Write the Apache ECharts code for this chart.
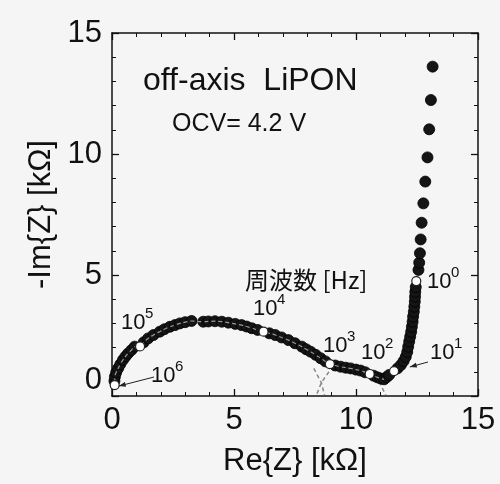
<!DOCTYPE html>
<html>
<head>
<meta charset="utf-8">
<script src="https://cdn.jsdelivr.net/npm/echarts@6/dist/echarts.min.js"></script>
<style>
html,body{margin:0;padding:0;background:#f5f5f5;}
#c{width:500px;height:484px;}
</style>
</head>
<body>
<div id="c"></div>
<script>
// Measured impedance points (Re, -Im) in kΩ, filled markers
const reFilled = [0.10,0.12,0.17,0.25,0.34,0.45,0.55,0.66,0.80,0.93,1.30,1.48,1.70,1.96,2.15,2.37,2.58,2.78,3.00,3.26,
  3.74,3.95,4.22,4.50,4.77,5.05,5.31,5.52,5.73,5.97,6.45,6.69,6.95,7.23,7.50,7.78,7.96,8.14,8.35,8.55,8.75,
  9.15,9.37,9.58,9.78,10.00,10.19,10.38,10.72,10.88,11.02,11.15,11.26,11.36,11.70,11.84,11.95,12.04,12.10,12.14,
  12.18,12.22,12.26,12.29,12.32,12.34,12.37,12.39,12.41,12.42,12.43,12.45,
  12.56,12.59,12.62,12.65,12.69,12.76,12.84,12.93,13.00,13.07,13.14];
const imFilled = [0.62,0.80,0.97,1.14,1.31,1.49,1.63,1.76,1.90,2.04,2.22,2.38,2.52,2.66,2.76,2.86,2.93,3.00,3.05,3.10,
  3.07,3.08,3.09,3.07,3.03,2.98,2.93,2.87,2.80,2.73,2.59,2.52,2.42,2.31,2.18,2.04,1.93,1.83,1.70,1.56,1.43,
  1.26,1.21,1.17,1.14,1.09,1.05,0.98,0.84,0.77,0.72,0.69,0.78,0.87,1.14,1.28,1.44,1.62,1.82,2.04,
  2.25,2.45,2.65,2.86,3.07,3.28,3.48,3.69,3.90,4.10,4.30,4.50,
  5.21,5.51,5.90,6.47,7.16,7.96,8.86,9.86,11.02,12.23,13.61];
// Open markers (frequency decades)
const reOpen = [0.11,1.15,6.21,8.93,10.56,11.56,12.47];
const imOpen = [0.45,2.05,2.66,1.32,0.91,1.03,4.75];
// Visible dashed fit-curve fragments
const fitA_re = [8.27,8.58,8.71], fitA_im = [1.14,0.55,0.04];
const fitB_re = [8.89,8.58,8.38], fitB_im = [1.00,0.55,0.04];
const fitC_re = [10.95,11.22], fitC_im = [0.59,0.04];
// Axis ticks
const xTicks = [0,5,10,15];
const yTicks = [0,5,10,15];

const FONT = "'Liberation Sans', Arial, sans-serif";
const zip = (a,b) => a.map((v,i)=>[v,b[i]]);
const filled = zip(reFilled, imFilled);
const open = zip(reOpen, imOpen);
// arc portion (for the light dashed trace inside the band)
const arcLine = [];
filled.concat(open).sort((p,q)=>p[0]-q[0]).forEach(p=>{ if (p[0] <= 11.2) arcLine.push(p); });

const chart = echarts.init(document.getElementById('c'), null, {renderer:'canvas'});
const axisCommon = {
  min: xTicks[0], max: xTicks[xTicks.length-1], interval: 5,
  axisLine: {show:true, onZero:false, lineStyle:{color:'#111', width:1.5}},
  axisTick: {show:true, inside:true, length:7, lineStyle:{color:'#111', width:1.3}},
  minorTick: {show:true, splitNumber:5, length:4, lineStyle:{color:'#111', width:1}},
  splitLine: {show:false}
};
const labelStyle = {color:'#111', fontSize:31, fontFamily:FONT};
const option = {
  backgroundColor:'#f5f5f5',
  animation:false,
  grid:{left:112, right:22, top:33, bottom:88},
  xAxis:[
    Object.assign({}, axisCommon, {type:'value', position:'bottom',
      axisLabel:Object.assign({margin:9}, labelStyle),
      name:'Re{Z} [kΩ]', nameLocation:'middle', nameGap:50,
      nameTextStyle:{color:'#111', fontSize:31, fontFamily:FONT}}),
    Object.assign({}, axisCommon, {type:'value', position:'top', axisLabel:{show:false}})
  ],
  yAxis:[
    Object.assign({}, axisCommon, {type:'value', position:'left',
      axisLabel:Object.assign({margin:10, verticalAlignMinLabel:'bottom'}, labelStyle),
      name:'-Im{Z} [kΩ]', nameLocation:'middle', nameGap:48,
      nameTextStyle:{color:'#111', fontSize:31, fontFamily:FONT}}),
    Object.assign({}, axisCommon, {type:'value', position:'right', axisLabel:{show:false}})
  ],
  series:[
    {type:'line', data:zip(fitA_re,fitA_im), symbol:'none', lineStyle:{color:'#8a8a8a', width:1.5, type:[4,3]}, z:1},
    {type:'line', data:zip(fitB_re,fitB_im), symbol:'none', lineStyle:{color:'#8a8a8a', width:1.5, type:[4,3]}, z:1},
    {type:'line', data:zip(fitC_re,fitC_im), symbol:'none', lineStyle:{color:'#8a8a8a', width:1.5, type:[4,3]}, z:1},
    {type:'scatter', data:filled, symbol:'circle', symbolSize:11,
      itemStyle:{color:'#151515', borderColor:'#000', borderWidth:0.8, opacity:1}, z:2},
    {type:'line', data:arcLine, symbol:'none', smooth:true,
      lineStyle:{color:'#9a9a9a', width:1.2, type:[4,3]}, z:3},
    {type:'scatter', data:open, symbol:'circle', symbolSize:9,
      itemStyle:{color:'#ffffff', borderColor:'#222', borderWidth:1.2, opacity:1}, z:4}
  ]
};
chart.setOption(option);

// Annotations
const g = [];
function txt(x, y, s, size, family, align){
  g.push({type:'text', silent:true, z:10, style:{text:s, x:x, y:y, fill:'#111',
    font: size+'px '+(family||FONT), textAlign:align||'left', textVerticalAlign:'middle'}});
}
function pow(x, y, e){
  txt(x, y, '10', 22);
  txt(x+24, y-9, e, 15);
}
txt(143, 81, 'off-axis  LiPON', 32);
txt(172, 124, 'OCV= 4.2 V', 25);
txt(245, 280, '周波数 [Hz]', 24, "'Noto Sans CJK JP', 'Liberation Sans', sans-serif");
pow(121, 323, '5');
pow(253, 309, '4');
pow(151, 376, '6');
pow(323, 346, '3');
pow(361, 353, '2');
pow(430, 353, '1');
pow(427, 282, '0');

function arrow(x1, y1, x2, y2){
  g.push({type:'line', silent:true, z:10, shape:{x1:x1,y1:y1,x2:x2,y2:y2}, style:{stroke:'#222', lineWidth:1}});
  const a = Math.atan2(y2-y1, x2-x1), L = 7, W = 2.5;
  const bx = x2 - L*Math.cos(a), by = y2 - L*Math.sin(a);
  g.push({type:'polygon', silent:true, z:10, shape:{points:[[x2,y2],
    [bx + W*Math.sin(a), by - W*Math.cos(a)], [bx - W*Math.sin(a), by + W*Math.cos(a)]]}, style:{fill:'#222'}});
}
const p6 = chart.convertToPixel({xAxisIndex:0, yAxisIndex:0}, open[0]);
arrow(154, 377, p6[0]+4, p6[1]+1);
const p1 = chart.convertToPixel({xAxisIndex:0, yAxisIndex:0}, [12.04, 1.2]);
arrow(428, 362, p1[0]+4, p1[1]);
chart.setOption({graphic:g});
</script>
</body>
</html>
